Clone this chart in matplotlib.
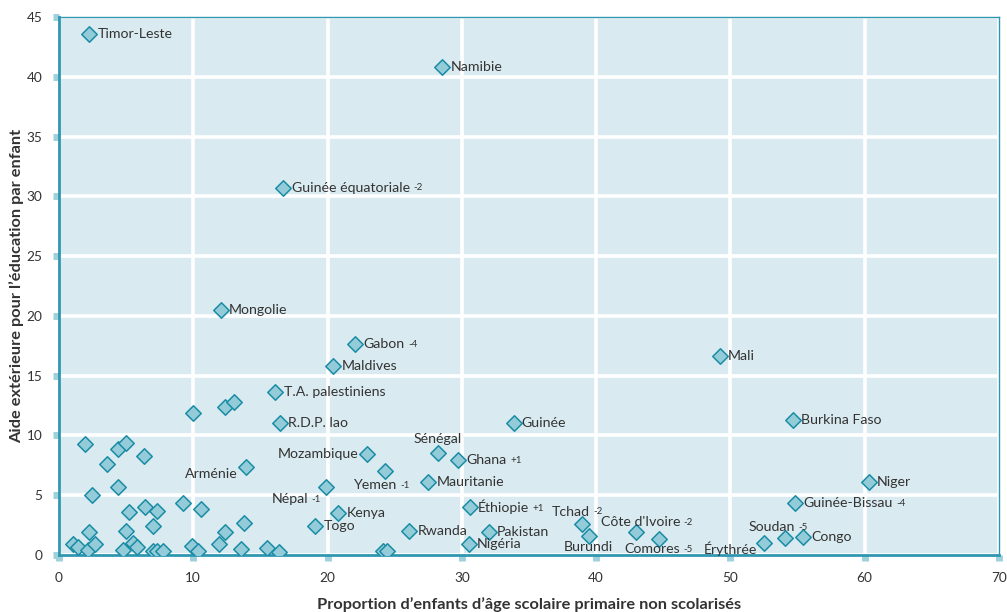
import matplotlib
matplotlib.use("Agg")
import matplotlib.pyplot as plt

plt.rcParams["font.family"] = ["Lato", "DejaVu Sans"]

# ── data ──────────────────────────────────────────────────────────────────────
# labelled countries: name, superscript, x (% out of school), y (aid per child)
names = ["Timor-Leste", "Namibie", "Guinée équatoriale", "Mongolie", "Gabon",
         "Maldives", "T.A. palestiniens", "R.D.P. lao", "Mali", "Guinée",
         "Burkina Faso", "Sénégal", "Mozambique", "Ghana", "Arménie", "Yemen",
         "Mauritanie", "Niger", "Népal", "Guinée-Bissau", "Éthiopie", "Kenya",
         "Tchad", "Togo", "Rwanda", "Pakistan", "Côte d'Ivoire", "Burundi",
         "Nigéria", "Soudan", "Congo", "Comores", "Érythrée"]
sups = ["", "", "-2", "", "-4",
        "", "", "", "", "",
        "", "", "", "+1", "", "-1",
        "", "", "-1", "-4", "+1", "",
        "-2", "", "", "", "-2", "",
        "", "-5", "", "-5", ""]
lab_x = [2.24, 28.54, 16.7, 12.05, 22.06,
         20.4, 16.1, 16.47, 49.2, 33.85,
         54.67, 28.2, 22.9, 29.75, 13.9, 24.3,
         27.5, 60.3, 19.9, 54.8, 30.6, 20.8,
         38.95, 19.1, 26.1, 32.0, 43.0, 39.5,
         30.5, 54.1, 55.4, 44.7, 52.5]
lab_y = [43.57, 40.84, 30.74, 20.53, 17.67,
         15.8, 13.63, 11.02, 16.64, 11.02,
         11.33, 8.57, 8.49, 7.96, 7.37, 6.99,
         6.09, 6.07, 5.73, 4.34, 4.03, 3.48,
         2.59, 2.39, 2.03, 1.95, 1.95, 1.61,
         0.92, 1.42, 1.5, 1.34, 1.0]

# unlabelled countries
other_x = [9.96, 12.37, 13.04, 1.94, 4.37, 4.99, 6.36, 3.55, 4.42, 2.48,
           9.27, 10.58, 6.41, 7.33, 5.22, 4.99, 6.98, 2.23, 13.8, 12.37,
           11.92, 1.02, 1.39, 2.18, 2.68, 4.79, 5.49, 5.79, 6.98, 7.28,
           7.77, 9.91, 10.33, 13.56, 15.47, 16.39, 24.1, 24.4]
other_y = [11.85, 12.38, 12.83, 9.27, 8.85, 9.4, 8.29, 7.65, 5.7, 5.0,
           4.31, 3.84, 3.98, 3.7, 3.56, 2.03, 2.39, 1.9, 2.65, 1.9,
           0.92, 0.92, 0.64, 0.44, 0.92, 0.44, 0.98, 0.64, 0.36, 0.36,
           0.31, 0.78, 0.36, 0.5, 0.56, 0.28, 0.31, 0.33]

x_ticks = [0, 10, 20, 30, 40, 50, 60, 70]
y_ticks = [0, 5, 10, 15, 20, 25, 30, 35, 40, 45]

# label placement: (dx, dy) in points, ha, va
PLACE = {
    "Sénégal": (0, 10, "center", "center"),
    "Mozambique": (-6, 0, "right", "center"),
    "Arménie": (-6, -5, "right", "center"),
    "Yemen": (-2, -10, "center", "center"),
    "Népal": (-3, -9, "right", "center"),
    "Tchad": (-3, 9, "center", "center"),
    "Burundi": (-1, -8, "center", "center"),
    "Côte d'Ivoire": (8, 7, "center", "center"),
    "Comores": (0, -7, "center", "center"),
    "Érythrée": (-5, -4, "right", "center"),
    "Soudan": (-5, 8, "center", "center"),
}

C_BG = "#d9ebf1"
C_FACE = "#93cbd8"
C_EDGE = "#1a8ca5"
C_SPINE = "#2f97b0"
C_TEXT = "#333333"

fig = plt.figure(figsize=(10.07, 6.12), dpi=100)
ax = fig.add_axes([0.0586, 0.0931, 0.9334, 0.8791])
ax.set_facecolor(C_BG)

ax.scatter(other_x, other_y, marker="D", s=62, facecolor=C_FACE,
           edgecolor=C_EDGE, linewidth=1.1, zorder=3)
ax.scatter(lab_x, lab_y, marker="D", s=62, facecolor=C_FACE,
           edgecolor=C_EDGE, linewidth=1.1, zorder=3)

for name, sup, x, y in zip(names, sups, lab_x, lab_y):
    dx, dy, ha, va = PLACE.get(name, (6, 0, "left", "center"))
    if sup and ha != "left":
        # shift so that label + superscript is placed as one block
        dx -= 5 if ha == "center" else 10
    t = ax.annotate(name, xy=(x, y), xytext=(dx, dy),
                    textcoords="offset points", ha=ha, va=va,
                    fontsize=10.2, color=C_TEXT, zorder=4)
    if sup:
        ax.annotate(sup, xy=(1, 0.1), xycoords=t, xytext=(2.5, 0),
                    textcoords="offset points", ha="left", va="bottom",
                    fontsize=7, color=C_TEXT, zorder=4)

ax.set_xlim(0, 70)
ax.set_ylim(0, 45)
ax.set_xticks(x_ticks)
ax.set_yticks(y_ticks)
ax.grid(color="white", linewidth=2.6, zorder=1)
ax.set_axisbelow(True)

for side in ("left", "bottom"):
    ax.spines[side].set_color(C_SPINE)
    ax.spines[side].set_linewidth(2.0)
for side in ("top", "right"):
    ax.spines[side].set_color(C_SPINE)
    ax.spines[side].set_linewidth(1.0)

ax.tick_params(axis="both", length=4, width=5, color="#9fd1dd",
               labelsize=9.8, labelcolor=C_TEXT, pad=8)

ax.set_xlabel("Proportion d’enfants d’âge scolaire primaire non scolarisés",
              fontsize=11.8, fontweight="bold", color=C_TEXT, labelpad=10)
ax.set_ylabel("Aide extérieure pour l’éducation par enfant",
              fontsize=11.8, fontweight="bold", color=C_TEXT, labelpad=2)

fig.savefig("out.png", dpi=100)
